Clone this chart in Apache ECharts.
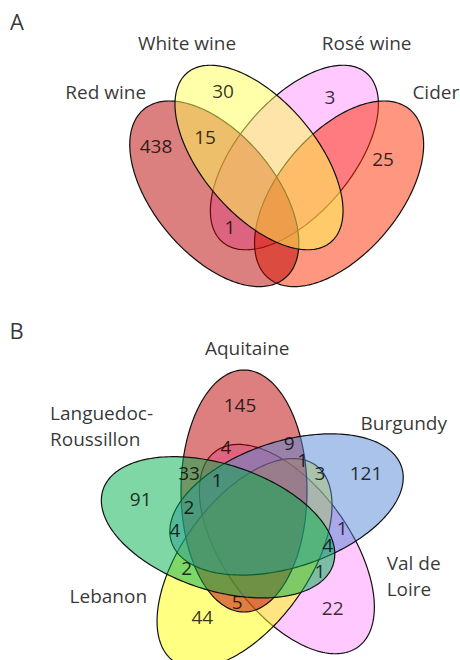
<!DOCTYPE html>
<html><head><meta charset="utf-8">
<script src="https://cdn.jsdelivr.net/npm/echarts@6/dist/echarts.min.js"></script>
<style>html,body{margin:0;padding:0;background:#fff;}#c{width:460px;height:660px;}</style>
</head><body><div id="c"></div>
<script>
// ---------------- data ----------------
const panelTitles = ['A', 'B'];

// Panel A: sets and region counts
const setNamesA = ['Red wine', 'White wine', 'Rosé wine', 'Cider'];
const regionNamesA = ['Red only', 'Red ∩ White', 'White only', 'Rosé only', 'Cider only', 'Red ∩ Rosé'];
const regionCountsA = [438, 15, 30, 3, 25, 1];

// Panel B: sets and region counts
const setNamesB = ['Aquitaine', 'Burgundy', 'Val de\nLoire', 'Lebanon', 'Languedoc-\nRoussillon'];
const regionNamesB = ['Aq', 'Aq∩VdL', 'Aq∩Bu', 'Aq∩Bu∩VdL', 'Bu∩Leb', 'Bu', 'Aq∩La', 'Aq∩La∩VdL', 'La',
  'Aq∩La∩Bu', 'La∩Bu', 'Bu∩VdL', 'Bu∩VdL∩La', 'La∩VdL', 'La∩Leb', 'Aq∩Leb', 'Leb', 'VdL'];
const regionCountsB = [145, 4, 9, 1, 3, 121, 33, 1, 91, 2, 4, 1, 4, 1, 2, 5, 44, 22];

// ---------------- layout (positions / styles) ----------------
// ellipse layout in the page coordinate space: [cx, cy, a, b, angle]
const ellipseA = {
  'Red wine':   [214.3, 193.8, 110, 60.5, 50],
  'White wine': [259.0, 157.5, 111, 57, 49.6],
  'Rosé wine':  [294.4, 157.5, 111, 57, -49.6],
  'Cider':      [339.1, 193.8, 110, 60.5, -50]
};
const fillA = {
  'Red wine': 'rgba(185,0,0,0.5)',
  'White wine': 'rgba(255,255,85,0.5)',
  'Rosé wine': 'rgba(255,145,255,0.5)',
  'Cider': 'rgba(255,45,0,0.5)'
};
const drawOrderA = ['Rosé wine', 'Cider', 'Red wine', 'White wine'];

// panel B: five congruent ellipses rotated by 72 degrees around a centre
const centreB = [256, 527];
const offsetB = [-12, -36];
const axesB = [121, 63];
const fillB = {
  'Aquitaine': 'rgba(190,0,0,0.5)',
  'Burgundy': 'rgba(85,135,215,0.5)',
  'Val de\nLoire': 'rgba(255,145,255,0.5)',
  'Lebanon': 'rgba(255,255,5,0.5)',
  'Languedoc-\nRoussillon': 'rgba(0,175,75,0.5)'
};
const drawOrderB = ['Val de\nLoire', 'Lebanon', 'Aquitaine', 'Burgundy', 'Languedoc-\nRoussillon'];

const countPosA = [[156, 146], [205, 137], [223, 91], [330, 97], [383, 159], [230, 227]];
const countPosB = [[240, 405], [226, 446.7], [289.3, 443.3], [302.7, 460], [320, 472.7], [366, 472.7],
  [189, 472.7], [217.3, 480], [140.7, 499], [189, 507.3], [175, 530], [342.3, 528.3], [327.7, 545],
  [320, 570.7], [186.7, 567.7], [237.3, 601.7], [202.3, 616.7], [332.7, 608.3]];
const setLabelPosA = [[105.7, 91.7], [187, 43.3], [366.7, 43.3], [435.8, 91.7]];
const setLabelPosB = [[247.2, 348.3], [403.7, 423.3], [413, 575.8], [108.3, 596], [97.5, 426.3]];
const setLabelAlignB = ['center', 'center', 'left', 'center', 'left'];
const setLabelLeftB = { 2: 386.7, 4: 50 };
const titlePos = [[17, 20.7], [16.7, 329.7]];

const FONT = '"Open Sans", "Noto Sans", sans-serif';

// ---------------- build ----------------
const ellipseData = [];
drawOrderA.forEach(n => {
  const e = ellipseA[n];
  ellipseData.push({ name: n, value: [e[0], e[1], e[2], e[3], e[4]], fill: fillA[n] });
});
drawOrderB.forEach(n => {
  const k = setNamesB.indexOf(n);
  const th = k * 72 * Math.PI / 180;
  const cx = centreB[0] + offsetB[0] * Math.cos(th) - offsetB[1] * Math.sin(th);
  const cy = centreB[1] + offsetB[0] * Math.sin(th) + offsetB[1] * Math.cos(th);
  ellipseData.push({ name: n, value: [cx, cy, axesB[0], axesB[1], 90 + k * 72], fill: fillB[n] });
});

function textSeries(items, size) {
  return {
    type: 'scatter', symbolSize: 1, z: 10, silent: true,
    itemStyle: { color: 'rgba(0,0,0,0)' },
    label: {
      show: true, position: 'inside', formatter: '{b}', color: '#000',
      fontFamily: FONT, fontSize: size, lineHeight: Math.round(size * 1.37)
    },
    data: items
  };
}

const countItems = [];
regionCountsA.forEach((v, i) => countItems.push({ name: String(v), value: countPosA[i] }));
regionCountsB.forEach((v, i) => countItems.push({ name: String(v), value: countPosB[i] }));

const setItems = [];
setNamesA.forEach((n, i) => setItems.push({ name: n, value: setLabelPosA[i] }));
setNamesB.forEach((n, i) => {
  if (setLabelAlignB[i] === 'left') {
    setItems.push({ name: n, value: [setLabelLeftB[i], setLabelPosB[i][1]], label: { align: 'left' } });
  } else {
    setItems.push({ name: n, value: setLabelPosB[i] });
  }
});

const titleItems = panelTitles.map((t, i) => ({ name: t, value: titlePos[i] }));

const chart = echarts.init(document.getElementById('c'), null, { renderer: 'svg' });
chart.setOption({
  animation: false,
  backgroundColor: '#fff',
  grid: { left: 0, right: 0, top: 0, bottom: 0 },
  xAxis: { type: 'value', min: 0, max: 460, show: false },
  yAxis: { type: 'value', min: 0, max: 660, inverse: true, show: false },
  series: [
    {
      type: 'custom', silent: true,
      renderItem: function (params, api) {
        const cx = api.value(0), cy = api.value(1), a = api.value(2), b = api.value(3);
        const phi = api.value(4) * Math.PI / 180;
        const pts = [];
        for (let i = 0; i < 240; i++) {
          const t = i / 240 * 2 * Math.PI;
          const x = cx + a * Math.cos(t) * Math.cos(phi) - b * Math.sin(t) * Math.sin(phi);
          const y = cy + a * Math.cos(t) * Math.sin(phi) + b * Math.sin(t) * Math.cos(phi);
          pts.push(api.coord([x, y]));
        }
        return {
          type: 'polygon', shape: { points: pts },
          style: { fill: ellipseData[params.dataIndex].fill, stroke: '#111', lineWidth: 1.2 }
        };
      },
      data: ellipseData.map(d => ({ name: d.name, value: d.value }))
    },
    textSeries(countItems, 19),
    textSeries(setItems, 19),
    textSeries(titleItems, 22)
  ]
});
</script>
</body></html>
